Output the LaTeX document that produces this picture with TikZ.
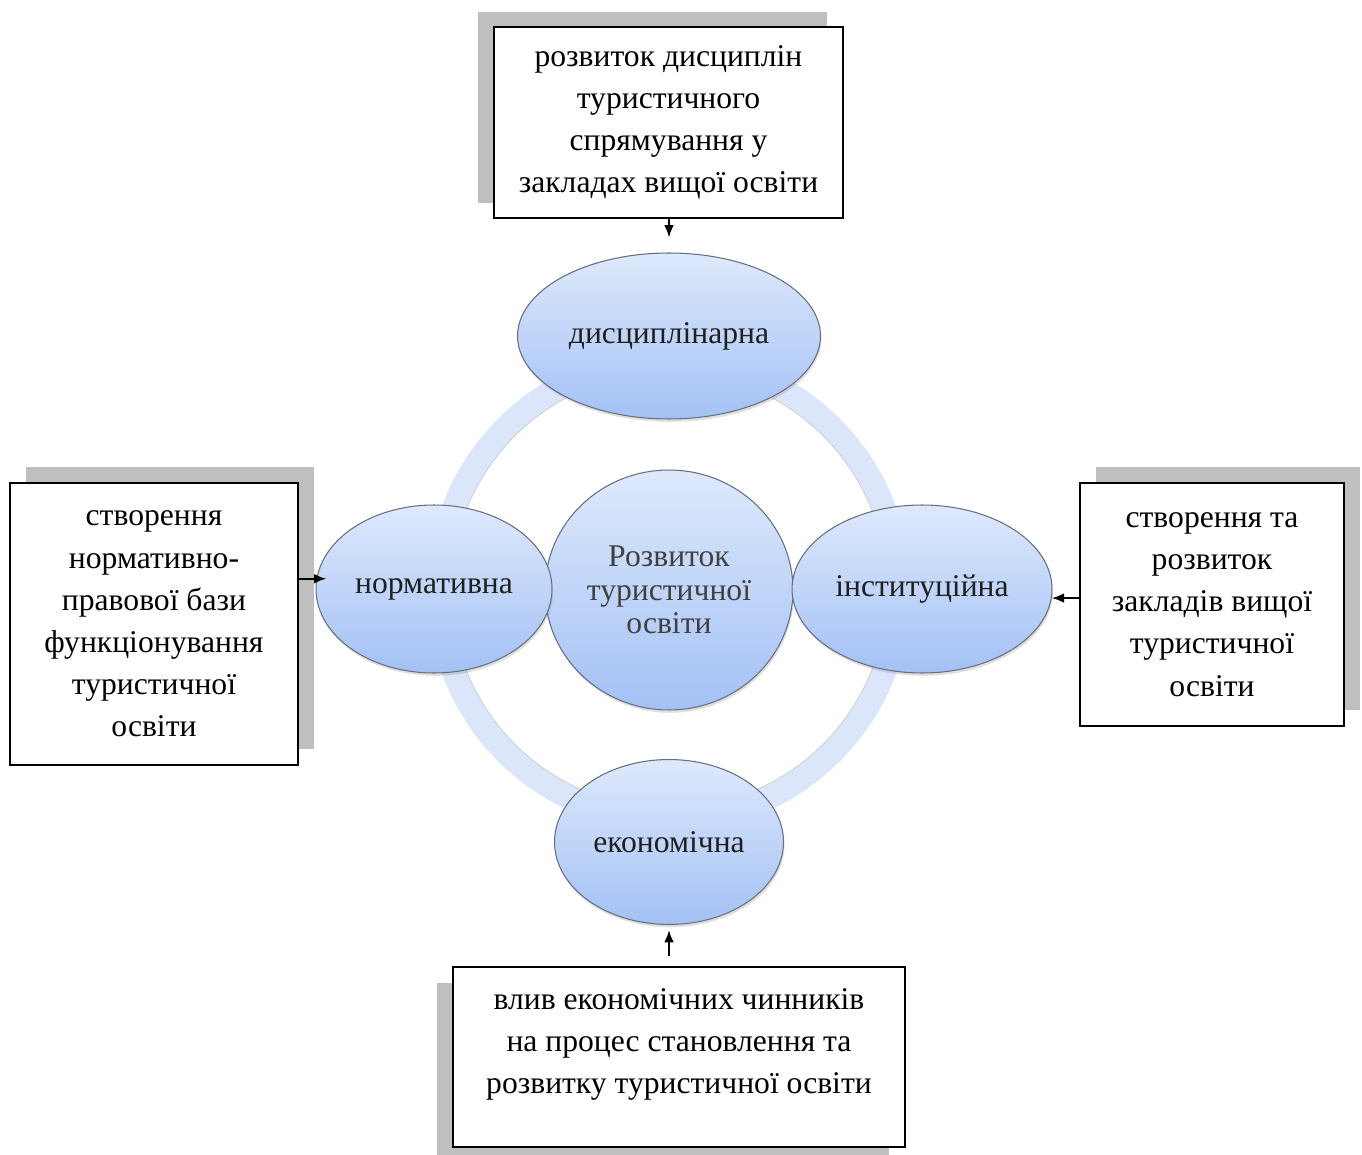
\documentclass[tikz,border=0pt]{standalone}
\usepackage{fontspec}
\setmainfont{Liberation Serif}
\usetikzlibrary{arrows.meta,shadows,shapes.geometric}
\definecolor{ringblue}{RGB}{219,230,250}
\definecolor{ovaltop}{RGB}{222,233,252}
\definecolor{ovalbottom}{RGB}{163,193,245}
\definecolor{ovalline}{RGB}{105,110,125}
\definecolor{boxshadow}{RGB}{191,191,191}
\begin{document}
\begin{tikzpicture}[x=0.02cm,y=-0.02cm,
    oval/.style={ellipse,inner sep=0pt,top color=ovaltop,bottom color=ovalbottom,
      draw=ovalline,line width=0.6pt,
      drop shadow={draw=none,opacity=0.25,shadow xshift=0.6pt,shadow yshift=-1.6pt},
      font=\fontsize{18}{19}\selectfont,text=black!88,align=center},
    infobox/.style 2 args={rectangle,draw,fill=white,line width=0.9pt,inner sep=0pt,
      general shadow={draw=none,fill=boxshadow,shadow xshift=#1,shadow yshift=#2},
      font=\fontsize{18}{24}\selectfont,align=center},
    flow/.style={-{Latex[length=7pt,width=5.5pt]},line width=1.1pt}]
      \useasboundingbox (0,0) rectangle (1362,1155);

      \coordinate (hub) at (669,590);
      \draw[ringblue,line width=0.48cm] (hub) circle[radius=4.6cm];
      \draw[black!18,line width=0.5pt] (hub) circle[radius=4.36cm];

      \node[oval,minimum width=4.96cm,minimum height=4.8cm,text=black!75] (centre) at (669,590)
           {Розвиток\\туристичної\\освіти};
      \node[oval,minimum width=6.06cm,minimum height=3.32cm] (disc) at (669,336)
           {дисциплінарна};
      \node[oval,minimum width=4.72cm,minimum height=3.36cm] (norm) at (434,589)
           {нормативна};
      \node[oval,minimum width=5.2cm,minimum height=3.36cm] (inst) at (922,589)
           {інституційна};
      \node[oval,minimum width=4.58cm,minimum height=3.3cm] (econ) at (669,842)
           {економічна};

      \node[infobox={-0.32cm}{0.3cm},minimum width=6.98cm,minimum height=3.82cm] (topbox) at (668.5,122.5)
           {розвиток дисциплін\\туристичного\\спрямування у\\закладах вищої освіти};
      \node[infobox={0.32cm}{0.32cm},minimum width=5.76cm,minimum height=5.64cm] (leftbox) at (154,624)
           {створення\\нормативно-\\правової бази\\функціонування\\туристичної\\освіти};
      \node[infobox={0.32cm}{0.32cm},minimum width=5.28cm,minimum height=4.86cm] (rightbox) at (1212,604.5)
           {створення та\\розвиток\\закладів вищої\\туристичної\\освіти};
      \node[infobox={-0.32cm}{-0.32cm},minimum width=9.04cm,minimum height=3.6cm] (botbox) at (679,1057)
           {влив економічних чинників\\на процес становлення та\\розвитку туристичної освіти\\[-6pt]\mbox{}};

      \draw[flow,shorten >=0.3cm] (topbox.south -| disc.north) -- (disc.north);
      \draw[flow,shorten >=-0.2cm] (leftbox.east |- norm.175) -- (norm.175);
      \draw[flow] (rightbox.west |- inst.-4) -- (inst.-4);
      \draw[flow,shorten <=0.2cm,shorten >=0.1cm] (botbox.north -| econ.south) -- (econ.south);
\end{tikzpicture}
\end{document}
